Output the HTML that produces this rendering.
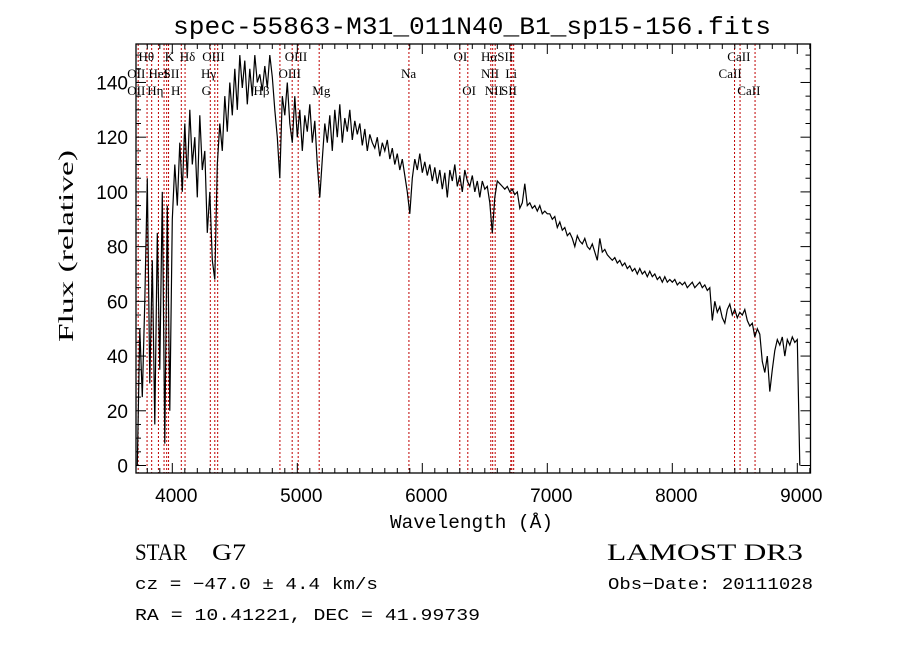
<!DOCTYPE html>
<html><head><meta charset="utf-8"><style>
html,body{margin:0;padding:0;background:#fff;}
svg{display:block;}
</style></head><body>
<svg id="chart" width="900" height="649" viewBox="0 0 900 649" xmlns="http://www.w3.org/2000/svg">
<rect x="0" y="0" width="900" height="649" fill="#fff"/>
<text x="173" y="34" font-family="Liberation Mono, monospace" font-size="25" textLength="598" lengthAdjust="spacingAndGlyphs">spec-55863-M31_011N40_B1_sp15-156.fits</text>
<defs><clipPath id="pc"><rect x="136" y="44" width="675" height="429"/></clipPath></defs>
<g id="lines"></g>
<g id="labels" font-family="Liberation Serif, serif" font-size="13"></g>
<g clip-path="url(#pc)"><path id="spec" fill="none" stroke="#000" stroke-width="1.2"/></g>
<rect x="136" y="44" width="674.5" height="429" fill="none" stroke="#000" stroke-width="1.3"/>
<g id="ticks" stroke="#000" stroke-width="1"></g>
<g id="xt" font-family="Liberation Sans, sans-serif" font-size="19" text-anchor="middle"></g>
<g id="yt" font-family="Liberation Sans, sans-serif" font-size="19" text-anchor="end"></g>
<text x="390" y="528" font-family="Liberation Mono, monospace" font-size="19" textLength="163" lengthAdjust="spacingAndGlyphs">Wavelength (Å)</text>
<text transform="translate(73,342) rotate(-90)" font-family="Liberation Serif, serif" font-size="21" textLength="192" lengthAdjust="spacingAndGlyphs">Flux (relative)</text>
<g font-family="Liberation Serif, serif" font-size="23">
<text x="135" y="560" textLength="52" lengthAdjust="spacingAndGlyphs">STAR</text>
<text x="212" y="560" textLength="34" lengthAdjust="spacingAndGlyphs">G7</text>
<text x="607" y="560" textLength="196" lengthAdjust="spacingAndGlyphs">LAMOST DR3</text>
</g>
<g font-family="Liberation Mono, monospace" font-size="17">
<text x="135" y="589" textLength="243" lengthAdjust="spacingAndGlyphs">cz = −47.0 ± 4.4 km/s</text>
<text x="608" y="589" textLength="205" lengthAdjust="spacingAndGlyphs">Obs−Date: 20111028</text>
<text x="135" y="620" textLength="345" lengthAdjust="spacingAndGlyphs">RA =  10.41221, DEC =  41.99739</text>
</g>
</svg>
<script>
const waveStart = 3720;
const waveStep = 20;
const fluxes = [0,50,25,60,105, 30,75,15,85,35, 100,8,95,20,90,
110,95,118,100,125, 105,130,110,120,98, 128,108,115,85,100, 75,68,110,125,115,
135,122,140,128,145, 130,150,138,148,132, 145,135,150,140,143, 137,146,138,150,142,
130,120,105,135,128, 140,125,118,135,120, 130,115,128,122,132, 118,126,110,98,112,
125,118,128,115,130, 120,132,118,127,122, 130,119,126,121,125, 117,123,115,121,118,
116,120,113,118,115, 119,112,116,110,114, 108,112,106,100,92, 105,112,108,114,107,
111,106,110,104,109, 103,108,101,107,98, 108,104,110,102,106, 100,108,104,102,106,
100,104,98,104,101, 102,96,85,98,104, 103,102,101,102,100, 101,99,100,94,96,
103,95,96,94,95, 93,95,92,93,92, 92,90,91,87,89, 86,87,84,85,83,
80,84,82,81,83, 80,79,81,78,75, 83,78,79,77,76, 75,76,74,75,73,
74,72,73,71,72, 70,72,70,71,69, 71,69,70,68,69, 67,69,67,68,67,
68,66,67,66,67, 65,66,67,65,66, 67,65,66,64,65, 53,60,56,58,54,
52,57,59,55,57, 54,56,55,57,53, 51,52,47,50,48, 38,34,40,27,35,
42,46,44,47,40, 46,44,47,45,46, 0];
const lineWaves = [3727,3798,3835,3889,3934,3955,3970,4072,4102,4304,4340,4363,4861,4959,5007,5175,5893,6300,6364,6548,6563,6583,6708,6716,6731,8498,8542,8662];
const labelTexts = ["Hθ","K","Hδ","OIII","OIII","OI","HαSII","CaII","OII","HeI","SII","Hγ","OIII","Na","NII","Li","CaII","OII","Hη","H","G","Hβ","Mg","OI","NII","SII","CaII"];
const labelWaves = [3730,3940,4060,4240,4900,6250,6470,8440,3640,3810,3930,4230,4850,5830,6470,6665,8370,3640,3800,3990,4235,4650,5120,6320,6500,6630,8520];
const labelRows = [0,0,0,0,0,0,0,0,1,1,1,1,1,1,1,1,1,2,2,2,2,2,2,2,2,2,2];
const xTicks = [4000,5000,6000,7000,8000,9000];
const yTicks = [0,20,40,60,80,100,120,140];

const X0=136,X1=810.5,Y0=44,Y1=473;
function xs(w){return 422.3+(w-6000)*0.125;}
function ys(f){return 465.5-f*2.736;}
const NS="http://www.w3.org/2000/svg";
function mk(t,p){const e=document.createElementNS(NS,t);p.appendChild(e);return e;}

let d="";
fluxes.forEach((f,i)=>{const w=waveStart+i*waveStep;d+=(i?"L":"M")+xs(w).toFixed(1)+" "+ys(f).toFixed(1);});
document.getElementById('spec').setAttribute('d',d);

const lg=document.getElementById('lines');
lineWaves.forEach(w=>{const l=mk('line',lg);


const x=xs(w);l.setAttribute('x1',x);l.setAttribute('x2',x);l.setAttribute('y1',Y0);l.setAttribute('y2',Y1);
l.setAttribute('stroke','#c00000');l.setAttribute('stroke-width','1');l.setAttribute('stroke-dasharray','2,2');});

const lb=document.getElementById('labels');
labelTexts.forEach((t,i)=>{const e=mk('text',lb);


e.setAttribute('x',xs(labelWaves[i]));e.setAttribute('y',61+labelRows[i]*17);e.textContent=t;});

const tg=document.getElementById('ticks');
function tick(x1,y1,x2,y2){const l=mk('line',tg);


l.setAttribute('x1',x1);l.setAttribute('y1',y1);l.setAttribute('x2',x2);l.setAttribute('y2',y2);}
for(let w=3800;w<=9100;w+=100){const x=xs(w);const L=(w%1000===0)?10:5;tick(x,Y1,x,Y1-L);tick(x,Y0,x,Y0+L);}
for(let f=0;f<=150;f+=5){const y=ys(f);const L=(f%20===0)?10:5;tick(X0,y,X0+L,y);tick(X1,y,X1-L,y);}

const xg=document.getElementById('xt');
xTicks.forEach(w=>{const e=mk('text',xg);


e.setAttribute('x',xs(w)+4);e.setAttribute('y',502);e.textContent=w;});
const yg=document.getElementById('yt');
yTicks.forEach(f=>{const e=mk('text',yg);


e.setAttribute('x',128);e.setAttribute('y',ys(f)+7);e.textContent=f;});
</script>
</body></html>
